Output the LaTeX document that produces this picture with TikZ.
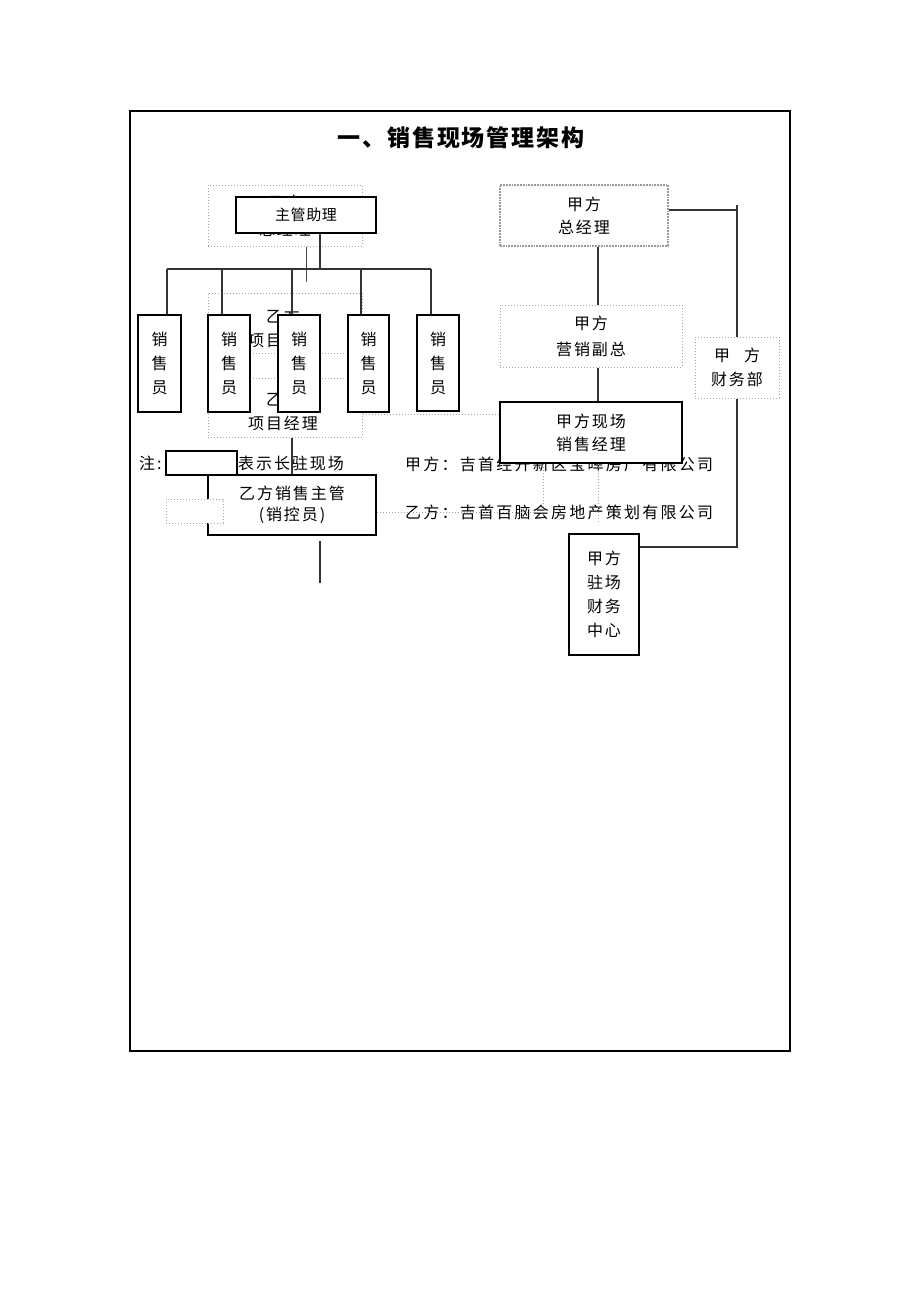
\documentclass[tikz,border=0pt]{standalone}
\usepackage{fontspec}
\setmainfont{Noto Sans CJK SC}
\newfontfamily\cjk{Noto Sans CJK SC}[LetterSpace=12]
\newfontfamily\cjkc{Noto Sans CJK SC}[LetterSpace=14]
\newfontfamily\cjks{Noto Sans CJK SC}[LetterSpace=4]
\newfontfamily\cjkt{Noto Sans CJK SC}[LetterSpace=8]
\begin{document}
\begin{tikzpicture}[x=1pt,y=-1pt,
  txt/.style={font=\cjk\fontsize{16}{24}\selectfont, align=center, inner sep=0pt},
  solidbox/.style={txt, draw=black, line width=1.2pt, fill=white, rectangle},
  dotbox/.style={txt, draw=gray!70, dotted, line width=1pt, fill=white},
  densebox/.style={txt, draw=gray!80, densely dotted, line width=1.8pt, fill=white},
  ln/.style={draw=black!80, line width=1.2pt},
  thinln/.style={draw=black!70, line width=0.9pt},
  dln/.style={draw=gray!70, dotted, line width=1pt}]
\useasboundingbox (0,0) rectangle (920,1302);
\fill[white] (0,0) rectangle (920,1302);
\draw[line width=2pt] (130,111) rectangle (790,1051);
\node[font=\cjkt\bfseries\fontsize{23}{26}\selectfont, inner sep=0pt] (title) at (461,138) {一、销售现场管理架构};

% ---------- left: Party B ----------
\node[dotbox, font=\cjk\fontsize{16}{27}\selectfont, minimum width=154pt, minimum height=61pt] (zgm) at (285,215.5) {乙方\\总经理};
\node[solidbox, font=\cjks\fontsize{15}{20}\selectfont, minimum width=140pt, minimum height=36pt] (assist) at (306,215) {主管助理};

\coordinate (b1) at (167,269);
\coordinate (b2) at (222,269);
\coordinate (b3) at (292,269);
\coordinate (b4) at (361,269);
\coordinate (b5) at (431,269);

\node[dotbox, minimum width=154pt, minimum height=144pt] (zpm) at (285,365) {};
\node[txt] (zpma) at (283,316) {乙方};
\node[txt] (zpmb) at (283,340) {项目经理};
\node[txt] (zpmc) at (283,399) {乙方};
\node[txt] (zpmd) at (283,423) {项目经理};
\draw[dln] (250,353) -- (345,353);
\draw[dln] (250,378) -- (345,378);

\draw[ln] ([xshift=14pt]assist.south) -- ([xshift=14pt]assist.south |- b1);
\draw[thinln] ([xshift=21pt]zgm.south) -- ++(0,35);
\draw[ln] (b1) -- (b5);

\node[solidbox, minimum width=43pt, minimum height=97pt] (s1) at (159.5,363.5) {销\\售\\员};
\node[solidbox, minimum width=42pt, minimum height=97pt] (s2) at (229,363.5) {销\\售\\员};
\node[solidbox, minimum width=42pt, minimum height=97pt] (s3) at (299,363.5) {销\\售\\员};
\node[solidbox, minimum width=41pt, minimum height=97pt] (s4) at (368.5,363.5) {销\\售\\员};
\node[solidbox, minimum width=42pt, minimum height=96pt] (s5) at (438,363) {销\\售\\员};

\draw[ln] (b1) -- (b1 |- s1.north);
\draw[ln] (b2) -- (b2 |- s2.north);
\draw[ln] (b3) -- (b3 |- s3.north);
\draw[ln] (b4) -- (b4 |- s4.north);
\draw[ln] (b5) -- (b5 |- s5.north);

% note
\node[txt, anchor=west] (zhu) at (139,463) {注:};
\node[txt, anchor=west] (biaoshi) at (238,463) {表示长驻现场};
\node[solidbox, minimum width=71pt, minimum height=24pt] (notebox) at (201.5,463) {};

\node[solidbox, font=\cjk\fontsize{16}{21}\selectfont, minimum width=168pt, minimum height=60pt] (sup) at (292,505) {乙方销售主管\\(销控员)};
\draw[ln] (sup.north |- zpm.south) -- (sup.north);
\node[dotbox, minimum width=57pt, minimum height=24pt] (smalldot) at (194.5,511) {};
\coordinate (t1) at (320,541);
\coordinate (t2) at (320,583);
\draw[ln] (t1) -- (t2);

% ---------- right: Party A ----------
\node[txt, font=\cjkc\fontsize{16}{24}\selectfont, anchor=west] (jiafang) at (405,464) {甲方：吉首经开新区宝晖房产有限公司};
\node[txt, font=\cjkc\fontsize{16}{24}\selectfont, anchor=west] (yifang) at (405,512) {乙方：吉首百脑会房地产策划有限公司};

\coordinate (dc) at (543,512);
\coordinate (dy) at (0,414);

\node[densebox, font=\cjk\fontsize{16}{23}\selectfont, minimum width=168pt, minimum height=61pt] (jgm) at (584,215.5) {甲方\\总经理};
\node[dotbox, font=\cjk\fontsize{16}{26}\selectfont, minimum width=182pt, minimum height=62pt] (jvp) at (591,336) {甲方\\营销副总};
\node[solidbox, font=\cjk\fontsize{16}{23}\selectfont, minimum width=182pt, minimum height=61pt] (jsm) at (591,432.5) {甲方现场\\销售经理};
\node[dotbox, minimum width=84pt, minimum height=61pt] (jfin) at (737,367.5) {甲\hspace{14pt}方\\财务部};
\node[solidbox, minimum width=70pt, minimum height=121pt] (jcash) at (604,594.5) {甲方\\驻场\\财务\\中心};

\draw[ln] ([xshift=14pt]jgm.south) -- ([xshift=7pt]jvp.north);
\draw[ln] ([xshift=7pt]jvp.south) -- ([xshift=7pt]jsm.north);
\coordinate (r1) at (737,205);
\draw[ln] ([yshift=5.5pt]jgm.east) -- ([yshift=5.5pt]jgm.east -| r1);
\draw[ln] (r1) -- (jfin.north);
\draw[ln] (jfin.south) |- ([yshift=47.5pt]jcash.east);

\draw[dln] (zpm.east |- dy) -- (jsm.west |- dy);
\draw[dln] ([yshift=-7pt]sup.east) -- (dc) -- (dc |- jsm.south);
\draw[dln] ([xshift=7pt]jsm.south) -- ++(0,60);
\end{tikzpicture}
\end{document}
